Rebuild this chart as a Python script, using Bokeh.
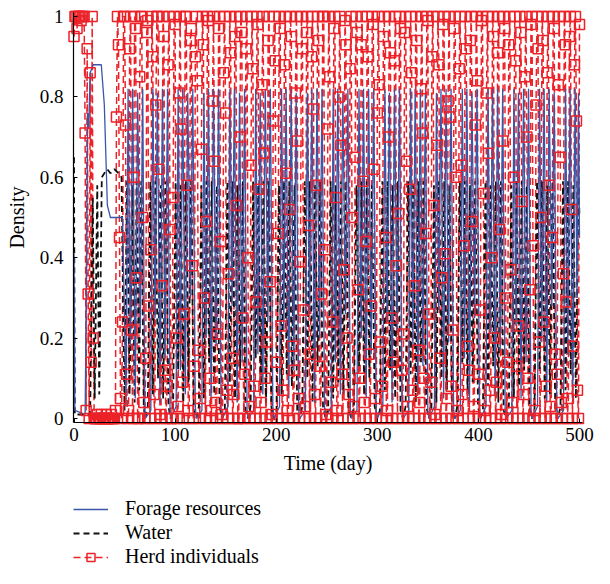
import numpy as np
from bokeh.plotting import figure
from bokeh.models import Range1d, FixedTicker, Legend, LegendItem, Label
from bokeh.embed import file_html
from bokeh.resources import INLINE

# ---------------- data ----------------
# Forage resources: turning points (day, density)
forage_t = [
    0, 0.8, 11, 12.5, 13.5, 14.5, 16, 19, 27, 30, 33, 36, 48, 50, 51.5, 53.5, 55.7, 58, 60.6, 63, 65.6, 68, 70,
    70.5, 76, 78, 80.2, 82.5, 85.1, 87.5, 90.1, 92.5, 95,
    95.5, 101, 103, 105.2, 107.5, 110.1, 112.5, 115.1, 117.5, 120,
    121, 126.5, 128.5, 130.7, 133, 135.6, 138, 140.6, 143, 145.5,
    146.7, 152.2, 154.2, 156.4, 158.7, 161.3, 163.7, 166.3, 168.7, 171.2,
    172.2, 177.7, 179.7, 181.9, 184.2, 186.8, 189.2, 191.8, 194.2, 196.7,
    197.8, 203.3, 205.3, 207.5, 209.8, 212.4, 214.8, 217.4, 219.8, 222.3,
    223.3, 228.8, 230.8, 233, 235.3, 237.9, 240.3, 242.9, 245.3, 247.8,
    248.9, 254.4, 256.4, 258.6, 260.9, 263.5, 265.9, 268.5, 270.9, 273.4,
    274.4, 279.9, 281.9, 284.1, 286.4, 289, 291.4, 294, 296.4, 298.9,
    300, 305.5, 307.5, 309.7, 312, 314.6, 317, 319.6, 322, 324.5,
    325.5, 331, 333, 335.2, 337.5, 340.1, 342.5, 345.1, 347.5, 350,
    351, 356.5, 358.5, 360.7, 363, 365.6, 368, 370.6, 373, 375.5,
    376.6, 382.1, 384.1, 386.3, 388.6, 391.2, 393.6, 396.2, 398.6, 401.1,
    402, 407.5, 409.5, 411.7, 414, 416.6, 419, 421.6, 424, 426.5,
    427.6, 433.1, 435.1, 437.3, 439.6, 442.2, 444.6, 447.2, 449.6, 452.1,
    453, 458.5, 460.5, 462.7, 465, 467.6, 470, 472.6, 475, 477.5,
    478.7, 484.2, 486.2, 488.4, 490.7, 493.3, 495.7, 497.5, 499, 500,
]
forage_v = [
    0.41, 0.02, 0.01, 0.40, 0.76, 0.72, 0.86, 0.88, 0.88, 0.78, 0.53, 0.50, 0.50, 0.25, 0.03, 0.82, 0.18, 0.82, 0.05, 0.81, 0.22, 0.82, 0.03,
    0, 0.02, 0.82, 0.25, 0.81, 0.04, 0.82, 0.15, 0.82, 0.02,
    0, 0.03, 0.82, 0.12, 0.82, 0.06, 0.81, 0.30, 0.82, 0.03,
    0, 0.02, 0.81, 0.20, 0.82, 0.05, 0.82, 0.18, 0.82, 0.02,
    0, 0.03, 0.82, 0.28, 0.82, 0.04, 0.81, 0.14, 0.82, 0.02,
    0, 0.02, 0.82, 0.16, 0.81, 0.06, 0.82, 0.24, 0.82, 0.03,
    0, 0.03, 0.82, 0.22, 0.82, 0.05, 0.82, 0.12, 0.81, 0.02,
    0, 0.02, 0.81, 0.26, 0.82, 0.04, 0.82, 0.20, 0.82, 0.03,
    0, 0.03, 0.82, 0.14, 0.82, 0.06, 0.81, 0.26, 0.82, 0.02,
    0, 0.02, 0.82, 0.20, 0.82, 0.05, 0.82, 0.16, 0.82, 0.02,
    0, 0.03, 0.82, 0.24, 0.81, 0.04, 0.82, 0.22, 0.82, 0.03,
    0, 0.02, 0.82, 0.18, 0.82, 0.06, 0.82, 0.13, 0.81, 0.02,
    0, 0.03, 0.81, 0.27, 0.82, 0.05, 0.82, 0.19, 0.82, 0.02,
    0, 0.02, 0.82, 0.15, 0.82, 0.04, 0.81, 0.25, 0.82, 0.03,
    0, 0.03, 0.82, 0.21, 0.82, 0.06, 0.82, 0.17, 0.82, 0.02,
    0, 0.02, 0.82, 0.23, 0.81, 0.05, 0.82, 0.14, 0.82, 0.02,
    0, 0.03, 0.82, 0.19, 0.82, 0.04, 0.82, 0.28, 0.81, 0.03,
    0, 0.02, 0.82, 0.16, 0.82, 0.05, 0.82, 0.30, 0.81, 0.45,
]

# Water: turning points (day, density)
water_t = [
    0, 0.8, 16, 18.5, 20.5, 23, 25, 27.5, 30, 33, 36, 40, 44, 47, 48.5, 50,
    52.5, 55, 57.5, 60, 62, 64.5, 66.5, 69,
    70.5, 73, 75.5, 78, 80.5, 83.1, 85.7, 88.2, 90.8, 93.5,
    95.5, 98, 100.5, 103, 105.5, 108.1, 110.7, 113.2, 115.8, 118.5,
    121, 123.5, 126, 128.5, 131, 133.6, 136.2, 138.7, 141.3, 144,
    146.7, 149.2, 151.7, 154.2, 156.7, 159.3, 161.9, 164.4, 167, 169.7,
    172.2, 174.7, 177.2, 179.7, 182.2, 184.8, 187.4, 189.9, 192.5, 195.2,
    197.8, 200.3, 202.8, 205.3, 207.8, 210.4, 213, 215.5, 218.1, 220.8,
    223.3, 225.8, 228.3, 230.8, 233.3, 235.9, 238.5, 241, 243.6, 246.3,
    248.9, 251.4, 253.9, 256.4, 258.9, 261.5, 264.1, 266.6, 269.2, 271.9,
    274.4, 276.9, 279.4, 281.9, 284.4, 287, 289.6, 292.1, 294.7, 297.4,
    300, 302.5, 305, 307.5, 310, 312.6, 315.2, 317.7, 320.3, 323,
    325.5, 328, 330.5, 333, 335.5, 338.1, 340.7, 343.2, 345.8, 348.5,
    351, 353.5, 356, 358.5, 361, 363.6, 366.2, 368.7, 371.3, 374,
    376.6, 379.1, 381.6, 384.1, 386.6, 389.2, 391.8, 394.3, 396.9, 399.6,
    402, 404.5, 407, 409.5, 412, 414.6, 417.2, 419.7, 422.3, 425,
    427.6, 430.1, 432.6, 435.1, 437.6, 440.2, 442.8, 445.3, 447.9, 450.6,
    453, 455.5, 458, 460.5, 463, 465.6, 468.2, 470.7, 473.3, 476,
    478.7, 481.2, 483.7, 486.2, 488.7, 491.3, 493.9, 496.4, 499, 500,
]
water_v = [
    0.65, 0.01, 0.01, 0.55, 0.05, 0.58, 0.06, 0.60, 0.61, 0.62, 0.61, 0.62, 0.61, 0.60, 0.30, 0.02,
    0.59, 0.06, 0.58, 0.04, 0.59, 0.07, 0.59, 0.03,
    0, 0.03, 0.59, 0.06, 0.59, 0.10, 0.58, 0.05, 0.59, 0.03,
    0, 0.02, 0.59, 0.12, 0.58, 0.04, 0.59, 0.09, 0.59, 0.02,
    0, 0.03, 0.58, 0.05, 0.59, 0.14, 0.59, 0.06, 0.58, 0.03,
    0, 0.02, 0.59, 0.09, 0.59, 0.05, 0.58, 0.12, 0.59, 0.02,
    0, 0.03, 0.59, 0.15, 0.58, 0.07, 0.59, 0.04, 0.59, 0.03,
    0, 0.02, 0.58, 0.06, 0.59, 0.11, 0.59, 0.08, 0.58, 0.02,
    0, 0.03, 0.59, 0.10, 0.59, 0.04, 0.58, 0.13, 0.59, 0.03,
    0, 0.02, 0.59, 0.05, 0.58, 0.09, 0.59, 0.06, 0.59, 0.02,
    0, 0.03, 0.58, 0.13, 0.59, 0.06, 0.59, 0.10, 0.58, 0.03,
    0, 0.02, 0.59, 0.07, 0.59, 0.12, 0.58, 0.05, 0.59, 0.02,
    0, 0.03, 0.59, 0.11, 0.58, 0.04, 0.59, 0.14, 0.59, 0.03,
    0, 0.02, 0.58, 0.04, 0.59, 0.10, 0.59, 0.07, 0.58, 0.02,
    0, 0.03, 0.59, 0.14, 0.59, 0.06, 0.58, 0.09, 0.59, 0.03,
    0, 0.02, 0.59, 0.08, 0.58, 0.13, 0.59, 0.04, 0.59, 0.02,
    0, 0.03, 0.58, 0.05, 0.59, 0.08, 0.59, 0.12, 0.58, 0.03,
    0, 0.02, 0.59, 0.12, 0.59, 0.05, 0.58, 0.06, 0.59, 0.02,
    0, 0.03, 0.59, 0.07, 0.59, 0.11, 0.58, 0.05, 0.59, 0.50,
]

# Herd individuals: daily samples (day 0, 1, 2, ...)
herd_v = [
    0.95, 1, 1, 0.97, 1, 1, 1, 0.99, 1, 1, 1,
    0.71, 0.02, 0.92, 0.31, 0, 0.86, 0.14, 1, 0.2, 0,
    0, 0, 0.01, 0, 0, 0, 0.01, 0, 0, 0, 0, 0.01, 0, 0, 0, 0, 0.01, 0, 0, 0, 0.02,
    0.75, 1, 0.93, 0.45, 0.05, 0, 0.24, 1, 1, 0.73, 0.11, 0, 0.02, 0.92, 1, 0.22, 0, 0.6, 1, 0.97,
    0.35, 0, 0, 0.85, 1, 1, 0.5, 0.04, 0, 0.15, 0.96, 0.99, 0.28, 0, 0.42, 1, 0.9, 0.06, 0, 0.78,
    1, 1, 0.62, 0.01, 0, 0.33, 1, 0.95, 0.12, 0, 0.08, 0.88, 1, 0.47, 0, 0, 0.55, 1, 0.98, 0.2,
    0, 0.03, 0.81, 1, 0.72, 0.09, 0, 0.26, 1, 1, 0.58, 0.02, 0, 0.94, 0.97, 0.38, 0, 0.13, 0.9, 1,
    0.84, 0.17, 0, 0.05, 0.67, 1, 0.93, 0.3, 0, 0.49, 1, 0.99, 0.1, 0, 0.02, 0.79, 1, 0.64, 0.04, 0,
    0.21, 0.97, 1, 0.44, 0.01, 0, 0.86, 1, 0.76, 0.07, 0, 0.36, 1, 0.91, 0.15, 0, 0.06, 0.95, 1, 0.53,
    0, 0, 0.7, 1, 0.96, 0.25, 0, 0.11, 0.92, 1, 0.4, 0.03, 0, 0.63, 1, 0.87, 0.08, 0, 0.29, 1,
    0.98, 0.57, 0, 0.04, 0.83, 1, 0.66, 0.1, 0, 0.19, 0.94, 1, 0.34, 0, 0.01, 0.74, 1, 0.89, 0.14, 0,
    0.46, 1, 0.97, 0.23, 0, 0.07, 0.88, 1, 0.61, 0.02, 0, 0.52, 1, 0.95, 0.18, 0, 0.12, 0.81, 1, 0.69,
    0.05, 0, 0.39, 1, 0.92, 0.27, 0, 0.03, 0.96, 1, 0.48, 0, 0.16, 0.9, 1, 0.77, 0.06, 0, 0.58, 1,
    0.94, 0.13, 0, 0.31, 1, 1, 0.42, 0.01, 0, 0.72, 1, 0.85, 0.09, 0, 0.24, 0.97, 1, 0.55, 0.02, 0,
    0.8, 1, 0.68, 0.11, 0, 0.37, 0.99, 0.93, 0.2, 0, 0.06, 0.87, 1, 0.5, 0, 0.03, 0.65, 1, 0.96, 0.32,
    0, 0.1, 0.93, 1, 0.59, 0.04, 0, 0.44, 1, 0.9, 0.16, 0, 0.28, 1, 0.98, 0.62, 0.05, 0, 0.76, 1,
    0.83, 0.19, 0, 0.08, 0.95, 1, 0.45, 0, 0.02, 0.7, 1, 0.91, 0.25, 0, 0.14, 0.89, 1, 0.38, 0, 0.51,
    1, 0.97, 0.12, 0, 0.21, 0.96, 1, 0.64, 0.03, 0, 0.57, 1, 0.86, 0.07, 0, 0.33, 1, 0.94, 0.17, 0,
    0.04, 0.82, 1, 0.71, 0.1, 0, 0.46, 1, 0.99, 0.26, 0, 0.09, 0.9, 1, 0.53, 0.01, 0, 0.68, 1, 0.88,
    0.15, 0, 0.35, 0.98, 1, 0.41, 0, 0.05, 0.79, 1, 0.75, 0.08, 0, 0.22, 0.97, 1, 0.6, 0.02, 0, 0.87,
    1, 0.63, 0.06, 0, 0.43, 1, 0.92, 0.18, 0, 0.12, 0.94, 1, 0.49, 0, 0.03, 0.73, 1, 0.84, 0.11, 0,
    0.27, 0.99, 1, 0.56, 0.02, 0, 0.81, 1, 0.66, 0.07, 0, 0.4, 1, 0.95, 0.2, 0, 0.09, 0.91, 1, 0.47,
    0, 0.01, 0.69, 1, 0.97, 0.3, 0, 0.14, 0.93, 1, 0.37, 0.04, 0, 0.6, 1, 0.89, 0.13, 0, 0.23, 1,
    0.96, 0.54, 0, 0.06, 0.85, 1, 0.7, 0.1, 0, 0.32, 0.98, 1, 0.43, 0, 0.02, 0.78, 1, 0.92, 0.19, 0,
    0.5, 1, 0.94, 0.24, 0, 0.08, 0.86, 1, 0.58, 0.03, 0, 0.45, 1, 0.97, 0.16, 0, 0.11, 0.83, 1, 0.65,
    0.04, 0, 0.36, 1, 0.93, 0.29, 0, 0.05, 0.95, 1, 0.52, 0, 0.18, 0.88, 1, 0.74, 0.07, 0, 0.98,
]
herd_t = list(range(len(herd_v)))

x_ticks = [0, 100, 200, 300, 400, 500]
y_ticks = [0, 0.2, 0.4, 0.6, 0.8, 1]
series_labels = ["Forage resources", "Water", "Herd individuals"]
x_title = "Time (day)"
y_title = "Density"

# ---------------- figure ----------------
FONT = "Liberation Serif"
BLUE = "#3a56a8"
RED = "#ec2228"
W, H = 594, 568
# pixel placement of the data window inside the canvas
PX0, PX500 = 73.5, 579.0      # x of day 0 and day 500
PY1, PY0 = 16.0, 418.0        # y of density 1 and density 0
sx = (PX500 - PX0) / 500.0
sy = (PY0 - PY1) / 1.0
x_lo = -PX0 / sx
x_hi = x_lo + W / sx
y_hi = 1 + PY1 / sy
y_lo = -(H - PY0) / sy
AX_Y = -0.011      # data y of the time axis
AX_X = -0.5        # data x of the density axis

n_f = min(len(forage_t), len(forage_v))
n_w = min(len(water_t), len(water_v))

p = figure(width=W, height=H, output_backend="svg", toolbar_location=None,
           x_range=Range1d(x_lo, x_hi), y_range=Range1d(y_lo, y_hi),
           min_border_left=0, min_border_right=0, min_border_top=0, min_border_bottom=0)
p.grid.visible = False
p.outline_line_color = None

# herd dashes underneath, forage/water curves, then the herd markers on top
r_h = p.line(herd_t, herd_v, line_color=RED, line_width=1.5, line_dash="7 4")
r_w = p.line(water_t[:n_w], water_v[:n_w], line_color="#111111", line_width=1.8, line_dash="6 4")
r_f = p.line(forage_t[:n_f], forage_v[:n_f], line_color=BLUE, line_width=1.3)
r_hm = p.scatter(herd_t, herd_v, marker="square", size=10, line_color=RED,
                 fill_color=None, line_width=1.5)

for ax in (p.xaxis[0], p.yaxis[0]):
    ax.axis_line_color = "black"
    ax.axis_line_width = 1.2
    ax.major_tick_in = 4
    ax.major_tick_out = 0
    ax.minor_tick_line_color = None
    ax.major_tick_line_color = "black"
    ax.major_label_text_font = FONT
    ax.major_label_text_font_size = "19px"
    ax.major_label_text_color = "black"
    ax.axis_label_text_font = FONT
    ax.axis_label_text_font_size = "20px"
    ax.axis_label_text_font_style = "normal"
    ax.axis_label_text_color = "black"

p.xaxis.ticker = FixedTicker(ticks=x_ticks)
p.yaxis.ticker = FixedTicker(ticks=y_ticks)
p.yaxis.major_label_overrides = {0: "0", 1: "1"}
p.xaxis.fixed_location = AX_Y
p.yaxis.fixed_location = AX_X
p.xaxis.bounds = (AX_X, 503)
p.yaxis.bounds = (AX_Y, 1.01)
p.xaxis.axis_label = x_title
p.xaxis.major_label_standoff = 5
p.yaxis.major_label_standoff = 10
p.xaxis.axis_label_standoff = 8

p.add_layout(Label(x=AX_X, y=0.5, x_offset=-(PX0 - 17), text=y_title, angle=90,
                   angle_units="deg", text_align="center", text_baseline="middle",
                   text_font=FONT, text_font_size="20px", text_color="black"))

legend = Legend(items=[
    LegendItem(label=series_labels[0], renderers=[r_f]),
    LegendItem(label=series_labels[1], renderers=[r_w]),
    LegendItem(label=series_labels[2], renderers=[r_h, r_hm]),
], location=(73, 0), orientation="vertical",
    glyph_width=35, glyph_height=20, label_standoff=17, spacing=1,
    padding=0, margin=0, border_line_color=None, background_fill_alpha=0,
    label_text_font=FONT, label_text_font_size="20px", label_text_color="black")
p.add_layout(legend)

open("out.html", "w").write(file_html(p, INLINE))
